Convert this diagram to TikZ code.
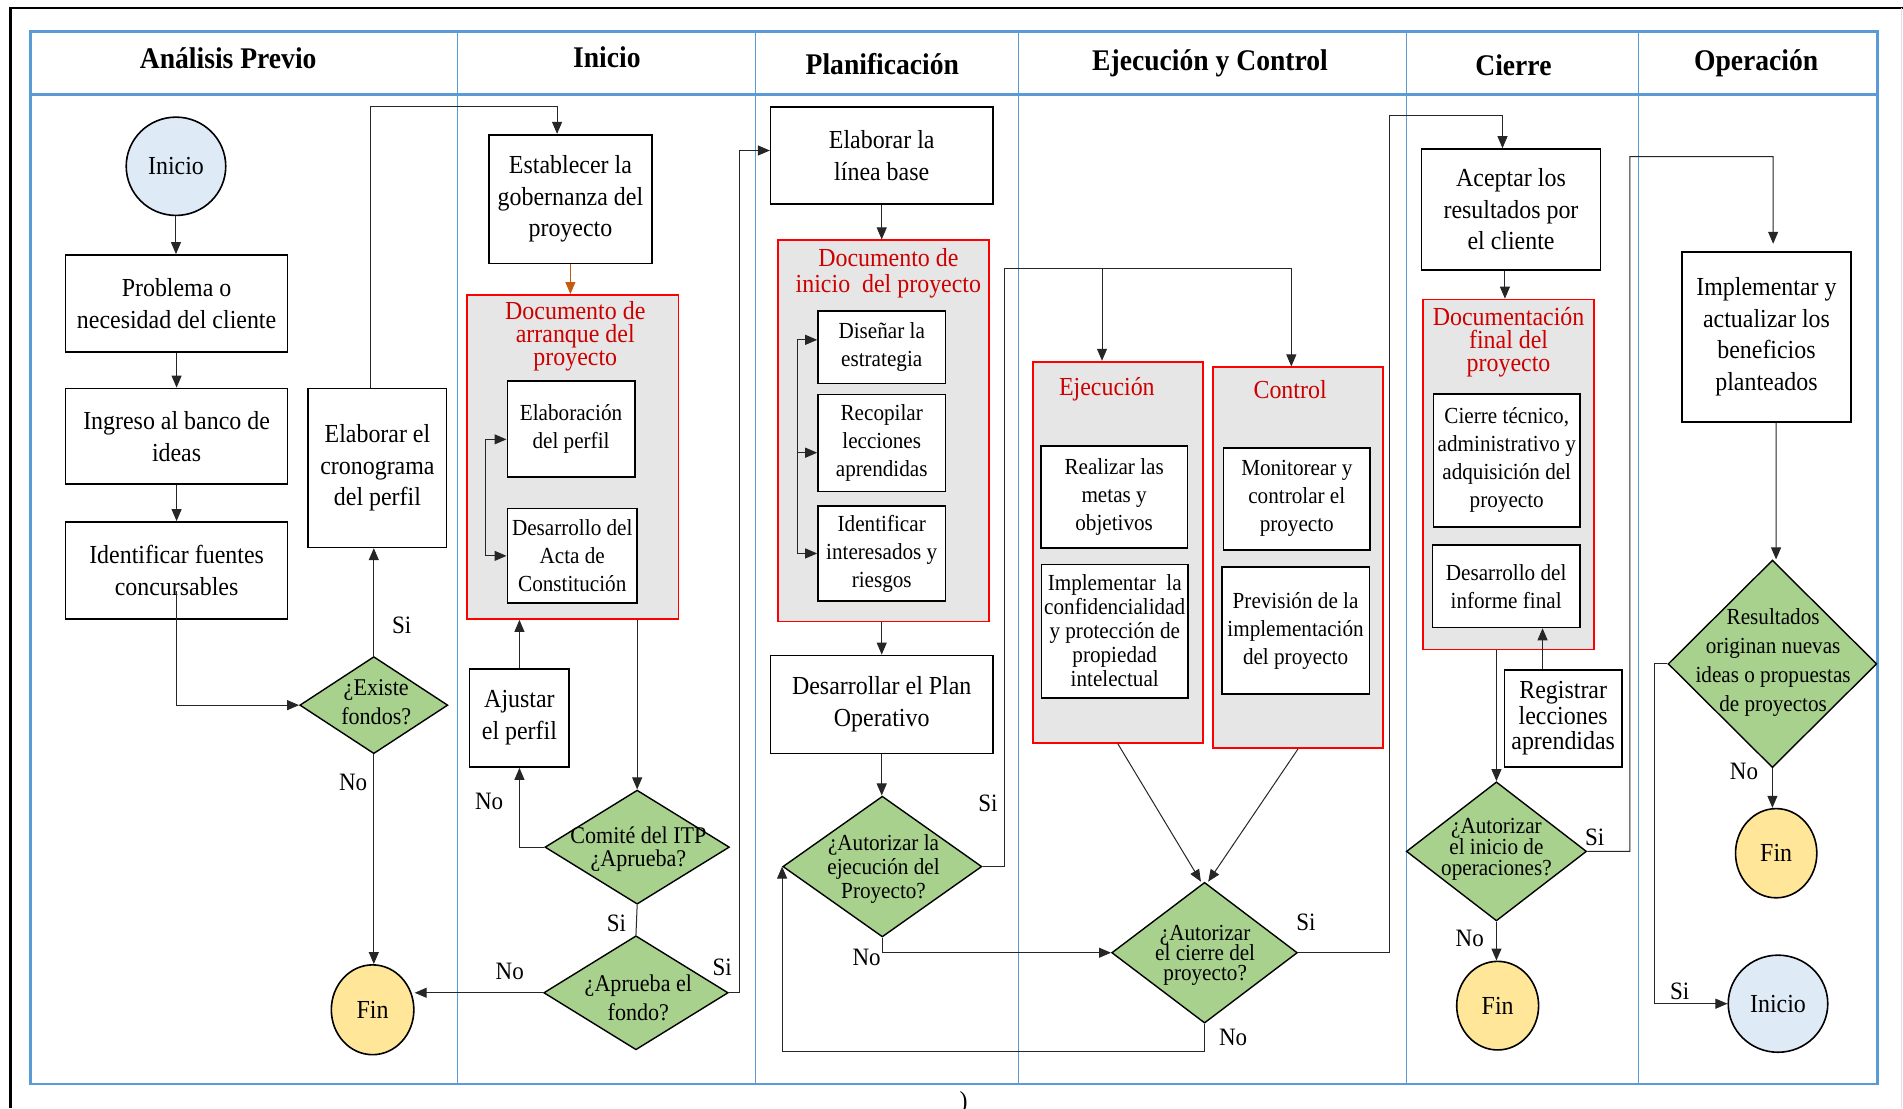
\documentclass[tikz,border=0pt]{standalone}
\usepackage{fontspec}
\setmainfont[FakeStretch=0.92]{Liberation Serif}
\usetikzlibrary{shapes.geometric,arrows.meta,calc}
\definecolor{lane}{HTML}{5B9BD5}
\definecolor{inifill}{HTML}{DEEBF7}
\definecolor{finfill}{HTML}{FFE699}
\definecolor{diafill}{HTML}{A9D18E}
\definecolor{contfill}{HTML}{E7E6E6}
\definecolor{contred}{HTML}{FF0000}
\definecolor{titred}{HTML}{CC0000}
\definecolor{orangearr}{HTML}{C55A11}
\newcommand\fsz[2]{\fontsize{#1}{#2}\selectfont\lineskiplimit=-100pt\relax}
\def\px{0.6068pt}
\begin{document}
\begin{tikzpicture}[x=0.6068pt, y=-0.6068pt,
  wh/.style 2 args={minimum width={#1*\px}, minimum height={#2*\px}},
  box/.style={draw, line width=0.8pt, fill=white, inner sep=0pt, align=center, font=\fsz{13}{15.8}},
  ibox/.style={draw, line width=0.8pt, fill=white, inner sep=0pt, align=center, font=\fsz{11.5}{14}},
  cont/.style={draw=contred, line width=0.9pt, fill=contfill, inner sep=0pt},
  ctitle/.style={text=titred, align=center, inner sep=0pt},
  dia/.style={diamond, draw, line width=0.7pt, fill=diafill, inner sep=0pt},
  dtext/.style={align=center, inner sep=0pt},
  term/.style={ellipse, draw, line width=0.8pt, inner sep=0pt, font=\fsz{13}{15}},
  line/.style={draw=black!85, line width=0.5pt},
  arr/.style={line, -{Triangle[length=6pt,width=5pt]}},
  lbl/.style={inner sep=0pt, font=\fsz{12.5}{14}},
  hdr/.style={inner sep=0pt, font=\bfseries\fsz{15}{18}},
]
\useasboundingbox (0,0) rectangle (1568,913);
% outer frame
\draw[line width=1.3pt] (8.5,913) -- (8.5,6.6) -- (1568,6.6);
\draw[black!12, line width=0.6pt] (1566.5,6.6) -- (1566.5,913);
% swimlanes
\foreach \x in {377,622.5,839,1158.5,1350} \draw[lane, line width=0.45pt] (\x,26) -- (\x,893);
\draw[lane, line width=1.3pt] (25,26) rectangle (1547,893);
\draw[lane, line width=1.4pt] (25,78) -- (1547,78);
\node[hdr] (h1) at (188,48) {Análisis Previo};
\node[hdr] (h2) at (500,47) {Inicio};
\node[hdr] (h3) at (727,53) {Planificación};
\node[hdr] (h4) at (997,52) {Ejecución y Control};
\node[hdr] (h5) at (1247,54) {Cierre};
\node[hdr] (h6) at (1447,52) {Operación};

% Lane 1
\node[term, fill=inifill, wh={82}{81}] (ini1) at (145,137) {Inicio};
\node[box, wh={183}{80}] (p1) at (145.5,250) {Problema o\\necesidad del cliente};
\node[box, wh={183}{79}] (p2) at (145.5,359.5) {Ingreso al banco de\\ideas};
\node[box, wh={183}{80}] (p3) at (145.5,470) {Identificar fuentes\\concursables};
\node[dia, wh={122}{80}] (d1) at (308,581) {};
\node[dtext, font=\fsz{12}{14.5}] (t1) at (310,579) {¿Existe\\fondos?};
\node[box, wh={114}{131}] (p4) at (311,385.5) {Elaborar el\\cronograma\\del perfil};
\node[term, fill=finfill, wh={68}{74}] (fin1) at (307,832) {Fin};

% Lane 2
\node[box, wh={134}{106}] (g1) at (470,164) {Establecer la\\gobernanza del\\proyecto};
\node[cont, wh={174}{267}] (c1) at (472,376.5) {};
\node[ctitle, font=\fsz{13}{11.3}] (ct1) at (474,277) {Documento de\\arranque del\\proyecto};
\node[ibox, wh={105}{79}] (e1) at (470.5,353.5) {Elaboración\\del perfil};
\node[ibox, wh={107}{78}] (e2) at (471.5,458) {Desarrollo del\\Acta de\\Constitución};
\node[dia, wh={152}{94}] (d2) at (525,698) {};
\node[dtext, font=\fsz{12}{11.5}] (t2) at (526,700) {Comité del ITP\\¿Aprueba?};
\node[box, wh={82}{81}] (aj) at (428,591.5) {Ajustar\\el perfil};
\node[dia, wh={152}{94}] (d3) at (524,818) {};
\node[dtext, font=\fsz{12}{14.5}] (t3) at (526,822) {¿Aprueba el\\fondo?};

% Lane 3
\node[box, wh={183}{80}] (lb) at (726.5,128) {Elaborar la\\línea base};
\node[cont, wh={174}{314}] (c2) at (728,355) {};
\node[ctitle, font=\fsz{13}{12.7}] (ct2) at (732,225) {Documento de\\inicio\ \ del proyecto};
\node[ibox, wh={105}{60}] (i1) at (726.5,286) {Diseñar la\\estrategia};
\node[ibox, wh={105}{80}] (i2) at (726.5,365) {Recopilar\\lecciones\\aprendidas};
\node[ibox, wh={105}{78}] (i3) at (726.5,456) {Identificar\\interesados y\\riesgos};
\node[box, wh={183}{81}] (po) at (726.5,580.5) {Desarrollar el Plan\\Operativo};
\node[dia, wh={164}{116}] (d4) at (727,714) {};
\node[dtext, font=\fsz{11.5}{12}] (t4) at (728,716) {¿Autorizar la\\ejecución del\\Proyecto?};

% Lane 4
\node[cont, wh={140}{314}] (c3) at (921,455) {};
\node[ctitle, font=\fsz{13}{15}] (ct3) at (912,321) {Ejecución};
\node[cont, wh={140.6}{313.7}] (c4) at (1069.5,459.5) {};
\node[ctitle, font=\fsz{13}{15}] (ct4) at (1063,321) {Control};
\node[ibox, wh={121}{84}] (r1) at (918,409.5) {Realizar las\\metas y\\objetivos};
\node[ibox, wh={121}{110}, font=\fsz{11.5}{12}] (r2) at (918.5,520) {Implementar\ \ la\\confidencialidad\\y protección de\\propiedad\\intelectual};
\node[ibox, wh={121}{84}] (m1) at (1068.5,411) {Monitorear y\\controlar el\\proyecto};
\node[ibox, wh={121.6}{105}] (m2) at (1067.5,519.5) {Previsión de la\\implementación\\del proyecto};
\node[dia, wh={153}{116}] (d5) at (992.5,785) {};
\node[dtext, font=\fsz{11.5}{10}] (t5) at (993,787) {¿Autorizar\\el cierre del\\proyecto?};

% Lane 5
\node[box, wh={147.5}{99.5}] (acc) at (1245,172.5) {Aceptar los\\resultados por\\el cliente};
\node[cont, wh={140.7}{288.4}] (c5) at (1243,391) {};
\node[ctitle, font=\fsz{13}{11.5}] (ct5) at (1243,282) {Documentación\\final del\\proyecto};
\node[ibox, wh={121}{109.3}] (ctec) at (1241.5,379.4) {Cierre técnico,\\administrativo y\\adquisición del\\proyecto};
\node[ibox, wh={121.5}{68}] (inf) at (1241,483) {Desarrollo del\\informe final};
\node[box, wh={97}{80}, font=\fsz{13}{12.7}] (reg) at (1288,592) {Registrar\\lecciones\\aprendidas};
\node[dia, wh={148.5}{114.6}] (d6) at (1233,701.5) {};
\node[dtext, font=\fsz{11.5}{10.5}] (t6) at (1233,700) {¿Autorizar\\el inicio de\\operaciones?};
\node[term, fill=finfill, wh={67.5}{73}] (fin2) at (1234,828.6) {Fin};

% Lane 6
\node[box, wh={139}{140}] (impl) at (1455.5,277.5) {Implementar y\\actualizar los\\beneficios\\planteados};
\node[dia, wh={172}{171}] (d7) at (1460.4,547) {};
\node[dtext, font=\fsz{11.5}{14.5}] (t7) at (1461,546) {Resultados\\originan nuevas\\ideas o propuestas\\de proyectos};
\node[term, fill=finfill, wh={67}{73.5}] (fin3) at (1463.5,703) {Fin};
\node[term, fill=inifill, wh={82}{80}] (ini2) at (1465,827) {Inicio};

% connectors
\draw[arr] (ini1.south) -- (ini1.south |- p1.north);
\draw[arr] (p1.south) -- (p1.south |- p2.north);
\draw[arr] (p2.south) -- (p2.south |- p3.north);
\draw[arr] ($(p3.center)+(0,17)$) |- (d1.west);
\draw[arr] (d1.north) -- (d1.north |- p4.south);
\draw[arr] (d1.south) -- (d1.south |- fin1.north);
\draw[arr] ($(p4.north)+(-6,0)$) |- (459,88) -- ($(g1.north)+(-11,0)$);
\draw[line, draw=orangearr, -{Triangle[length=6pt,width=5pt]}] (g1.south) -- (g1.south |- c1.north);
\coordinate (b1) at (400,458);
\draw[arr] (b1) -- (e2.west);
\draw[arr] (b1) |- ($(e1.west)+(0,8.5)$);
\draw[arr] (d2.north |- c1.south) -- (d2.north);
\draw[arr] (d2.west) -| (aj.south);
\draw[arr] (aj.north) -- (aj.north |- c1.south);
\draw[line] (d2.south) -- (d3.north);
\draw[arr] (d3.west) -- (d3.west -| fin1.east);
\draw[arr] (d3.east) -- ++(9,0) |- ($(lb.west)+(0,-4)$);
\draw[arr] (lb.south) -- (lb.south |- c2.north);
\coordinate (b2) at (657,456);
\draw[arr] (b2) -- (i3.west);
\draw[arr] (b2) |- ($(i2.west)+(0,8)$);
\draw[arr] (b2) |- ($(i1.west)+(0,-6)$);
\draw[arr] (c2.south -| po.north) -- (po.north);
\draw[arr] (po.south) -- (po.south |- d4.north);
\coordinate (sp) at (828,221);
\draw[line] (d4.east) -| (sp) -- (1064,221);
\draw[arr] (908,221) -- ($(c3.north)+(-13,0)$);
\draw[arr] (1064,221) -- ($(c4.north)+(-5.5,0)$);
\draw[arr] (d4.south) |- (d5.west);
\draw[arr] (d5.south) -- ++(0,23) -| (d4.west);
\draw[arr] (c3.south) -- ($(d5.north)+(-3,0)$);
\draw[arr] (c4.south) -- ($(d5.north)+(3,0)$);
\draw[arr] (d5.east) -- (1145,785) |- (1238,95) -- ($(acc.north)+(-7,0)$);
\draw[arr] ($(acc.south)+(-5,0)$) -- ($(c5.north)+(-3,0)$);
\draw[arr] (c5.south -| d6.north) -- (d6.north);
\draw[arr] ($(reg.north)+(-17,0)$) -- ($(inf.south)+(30,0)$);
\draw[arr] (d6.south) -- (d6.south |- fin2.north);
\draw[arr] (d6.east) -- (1343,701.5) |- (1461,129) -- ($(impl.north)+(5.5,-6)$);
\draw[arr] ($(impl.south)+(8,0)$) -- ($(d7.north)+(3,0)$);
\draw[arr] (d7.south) -- (d7.south |- fin3.north);
\draw[arr] (d7.west) -- (1363,547) |- (ini2.west);

% labels
\node[lbl] (l1) at (331,515) {Si};
\node[lbl] (l2) at (291,645) {No};
\node[lbl] (l3) at (403,660) {No};
\node[lbl] (l4) at (508,761) {Si};
\node[lbl] (l5) at (420,800) {No};
\node[lbl] (l6) at (595,797) {Si};
\node[lbl] (l7) at (814,662) {Si};
\node[lbl] (l8) at (714,789) {No};
\node[lbl] (l9) at (1076,760) {Si};
\node[lbl] (l10) at (1016,855) {No};
\node[lbl] (l11) at (1314,690) {Si};
\node[lbl] (l12) at (1211,773) {No};
\node[lbl] (l13) at (1437,636) {No};
\node[lbl] (l14) at (1384,817) {Si};
\node[inner sep=0pt, font=\fsz{13}{15}, anchor=base] (paren) at (794,914) {)};
\end{tikzpicture}
\end{document}
